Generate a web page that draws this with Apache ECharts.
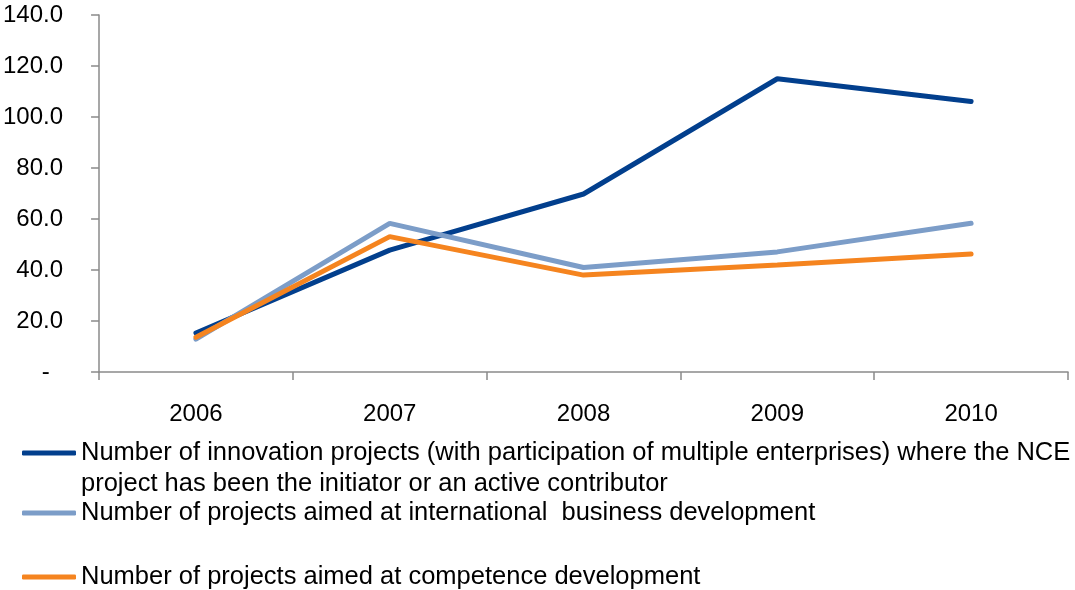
<!DOCTYPE html>
<html>
<head>
<meta charset="utf-8">
<script src="https://cdn.jsdelivr.net/npm/echarts@6/dist/echarts.min.js"></script>
<style>
html,body{margin:0;padding:0;background:#fff;}
#chart{width:1075px;height:590px;}
</style>
</head>
<body>
<div id="chart"></div>
<script>
const categories = ['2006', '2007', '2008', '2009', '2010'];
const innovationProjects = [15.3, 47.8, 69.8, 115.0, 106.1];
const internationalProjects = [12.9, 58.3, 41.0, 47.1, 58.3];
const competenceProjects = [13.6, 53.1, 38.0, 42.0, 46.3];
const seriesNames = [
  'Number of innovation projects (with participation of multiple enterprises) where the NCE\nproject has been the initiator or an active contributor',
  'Number of projects aimed at international  business development',
  'Number of projects aimed at competence development'
];
const seriesColors = ['#023F8D', '#7C9DC8', '#F5841F'];
const yTicks = { min: 0, max: 140, interval: 20 };

const chart = echarts.init(document.getElementById('chart'), null, { renderer: 'canvas' });
const font = 'Liberation Sans, Arial, sans-serif';
const axisGray = '#8A8A8A';
const legendFontSize = 25.5;

function legendAt(idx, centerY) {
  return {
    show: true,
    data: [seriesNames[idx]],
    left: 22,
    top: centerY - 15,
    padding: 0,
    itemWidth: 54,
    itemHeight: 5,
    icon: 'roundRect',
    selectedMode: false,
    formatter: n => n.split('\n')[0],
    textStyle: { fontFamily: font, fontSize: legendFontSize, color: '#000', lineHeight: 30, padding: [0, 0, 0, 0] }
  };
}

const option = {
  animation: false,
  backgroundColor: '#fff',
  grid: { left: 99, right: 7, top: 15, bottom: 218, containLabel: false },
  xAxis: {
    type: 'category',
    data: categories,
    boundaryGap: true,
    axisLine: { show: true, lineStyle: { color: axisGray, width: 1.5 } },
    axisTick: { show: true, length: 8, alignWithLabel: false, lineStyle: { color: axisGray, width: 1.5 } },
    axisLabel: { margin: 30, fontFamily: font, fontSize: 24, color: '#000' },
    splitLine: { show: false }
  },
  yAxis: {
    type: 'value',
    min: yTicks.min,
    max: yTicks.max,
    interval: yTicks.interval,
    axisLine: { show: true, lineStyle: { color: axisGray, width: 1.5 } },
    axisTick: { show: true, length: 8, inside: false, lineStyle: { color: axisGray, width: 1.5 } },
    axisLabel: {
      margin: 36,
      fontFamily: font, fontSize: 24, color: '#000',
      formatter: v => (v === 0 ? '-  ' : v.toFixed(1))
    },
    splitLine: { show: false }
  },
  legend: [legendAt(0, 453), legendAt(1, 513), legendAt(2, 577)],
  graphic: [{
    type: 'text',
    left: 81,
    top: 484 - 15,
    style: {
      text: seriesNames[0].split('\n')[1],
      fontFamily: font, fontSize: legendFontSize, fill: '#000', lineHeight: 30
    }
  }],
  series: [innovationProjects, internationalProjects, competenceProjects].map((d, i) => ({
    name: seriesNames[i],
    type: 'line',
    data: d,
    symbol: 'none',
    showSymbol: false,
    color: seriesColors[i],
    itemStyle: { color: seriesColors[i] },
    lineStyle: { color: seriesColors[i], width: 5, cap: 'round' }
  }))
};
chart.setOption(option);
</script>
</body>
</html>
